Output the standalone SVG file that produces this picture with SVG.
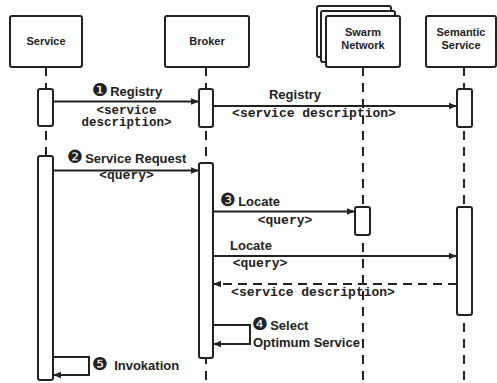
<svg xmlns="http://www.w3.org/2000/svg" width="497" height="383" viewBox="0 0 497 383">
<style>
.box{fill:#fff;stroke:#222;stroke-width:2}
.act{fill:#fff;stroke:#222;stroke-width:2}
.life{stroke:#222;stroke-width:2;stroke-dasharray:9 7;fill:none}
.msg{stroke:#222;stroke-width:2;fill:none}
.ret{stroke:#222;stroke-width:2;fill:none;stroke-dasharray:9 6}
.lbl{font-family:"Liberation Sans","DejaVu Sans",Arial,sans-serif;font-weight:bold;font-size:13px;fill:#222}
.num{font-family:"DejaVu Sans",sans-serif;font-size:18px;font-weight:normal}
.nlbl{font-family:"Liberation Sans","DejaVu Sans",Arial,sans-serif;font-weight:bold;font-size:11px;fill:#222}
.mono{font-family:"Liberation Mono","DejaVu Sans Mono",monospace;font-weight:bold;font-size:13px;fill:#222}
.mono2{font-family:"Liberation Mono","DejaVu Sans Mono",monospace;font-weight:bold;font-size:12.5px;fill:#222}
</style>
<defs>
<marker id="ah" viewBox="0 0 10 10" refX="10" refY="5" markerWidth="10" markerHeight="8" markerUnits="userSpaceOnUse" orient="auto">
<path d="M0,1 L10,5 L0,9 z" fill="#222"/>
</marker>
</defs>
<rect width="497" height="383" fill="#fff"/>
<g id="node-service">
<rect class="box" x="10" y="16" width="72" height="51" rx="2"/>
<text class="nlbl" x="46" y="45" text-anchor="middle">Service</text>
</g>
<g id="node-broker">
<rect class="box" x="165" y="16" width="84" height="51" rx="2"/>
<text class="nlbl" x="207" y="45" text-anchor="middle">Broker</text>
</g>
<g id="node-swarm">
<rect class="box" x="317" y="6" width="74" height="51" rx="2"/>
<rect class="box" x="321" y="11" width="74" height="51" rx="2"/>
<rect class="box" x="326" y="16" width="74" height="51" rx="2"/>
<text class="nlbl" x="363" y="36" text-anchor="middle">Swarm</text>
<text class="nlbl" x="363" y="49" text-anchor="middle">Network</text>
</g>
<g id="node-semantic">
<rect class="box" x="426" y="16" width="70" height="51" rx="2"/>
<text class="nlbl" x="461" y="36" text-anchor="middle">Semantic</text>
<text class="nlbl" x="461" y="49" text-anchor="middle">Service</text>
</g>
<g id="labels">
<text class="lbl" x="92" y="96"><tspan class="num">❶</tspan><tspan dx="2">Registry</tspan></text>
<text class="mono2" x="126.5" y="113.5" text-anchor="middle">&lt;service</text>
<text class="mono2" x="126.5" y="126" text-anchor="middle">description&gt;</text>
<text class="lbl" x="295" y="99" text-anchor="middle">Registry</text>
<text class="mono" x="314" y="117" text-anchor="middle">&lt;service description&gt;</text>
<text class="lbl" x="67" y="163"><tspan class="num">❷</tspan><tspan dx="2">Service Request</tspan></text>
<text class="mono" x="126.5" y="179" text-anchor="middle">&lt;query&gt;</text>
<text class="lbl" x="220" y="206"><tspan class="num">❸</tspan><tspan dx="2">Locate</tspan></text>
<text class="mono" x="285" y="223.5" text-anchor="middle">&lt;query&gt;</text>
<text class="lbl" x="230" y="250">Locate</text>
<text class="mono" x="260" y="267" text-anchor="middle">&lt;query&gt;</text>
<text class="mono" x="313" y="296" text-anchor="middle">&lt;service description&gt;</text>
<text class="lbl" x="252" y="330"><tspan class="num">❹</tspan><tspan dx="2">Select</tspan></text>
<text class="lbl" x="253" y="346.5">Optimum Service</text>
<text class="lbl" x="92" y="369.5"><tspan class="num">❺</tspan><tspan dx="6">Invokation</tspan></text>
</g>
<g id="lifelines">
<line class="life" x1="46" y1="67" x2="46" y2="383"/>
<line class="life" x1="206" y1="67" x2="206" y2="383"/>
<line class="life" x1="363" y1="67" x2="363" y2="383"/>
<line class="life" x1="464" y1="67" x2="464" y2="383"/>
</g>
<g id="connectors">
<line class="msg" x1="53" y1="101.5" x2="199" y2="101.5" marker-end="url(#ah)"/>
<line class="msg" x1="213" y1="106" x2="457" y2="106" marker-end="url(#ah)"/>
<line class="msg" x1="53" y1="170.5" x2="199" y2="170.5" marker-end="url(#ah)"/>
<line class="msg" x1="213" y1="211.5" x2="355" y2="211.5" marker-end="url(#ah)"/>
<line class="msg" x1="213" y1="256" x2="457" y2="256" marker-end="url(#ah)"/>
<line class="ret" x1="457" y1="284" x2="213" y2="284" marker-end="url(#ah)"/>
<polyline class="msg" points="213,325 250,325 250,344 213,344" marker-end="url(#ah)"/>
<polyline class="msg" points="53,357 89,357 89,375 53,375" marker-end="url(#ah)"/>
</g>
<g id="activations">
<rect class="act" x="38" y="89" width="15" height="37" rx="2"/>
<rect class="act" x="199" y="89" width="14" height="38" rx="2"/>
<rect class="act" x="457" y="89" width="15" height="38" rx="2"/>
<rect class="act" x="38" y="156" width="15" height="224" rx="2"/>
<rect class="act" x="199" y="163" width="14" height="195" rx="2"/>
<rect class="act" x="355" y="207" width="15" height="28" rx="2"/>
<rect class="act" x="457" y="207" width="15" height="108" rx="2"/>
</g>
</svg>
